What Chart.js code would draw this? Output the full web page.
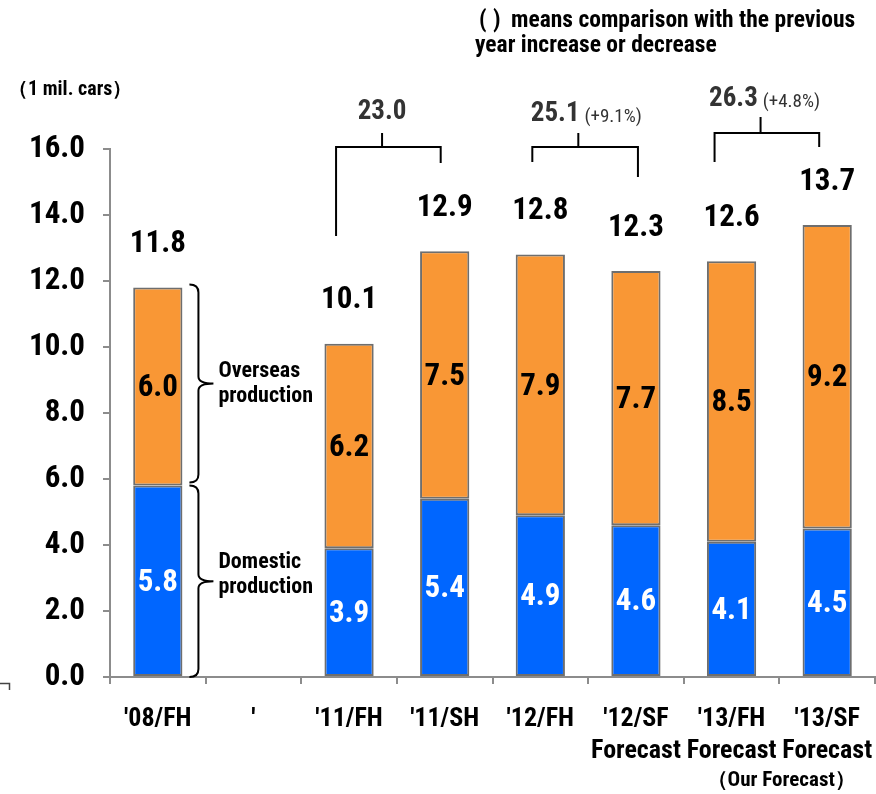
<!DOCTYPE html>
<html>
<head>
<meta charset="utf-8">
<script src="https://cdn.jsdelivr.net/npm/chart.js@4.4.1/dist/chart.umd.min.js"></script>
<style>
  html, body { margin: 0; padding: 0; background: #ffffff; }
  #wrap { width: 876px; height: 794px; position: relative; }
</style>
</head>
<body>
<div id="wrap"><canvas id="chart"></canvas></div>
<script>
// Production volume, million cars (first half / second half)
const categories = [
  ["'08/FH"], ["'"], ["'11/FH"], ["'11/SH"], ["'12/FH"],
  ["'12/SF", "Forecast"], ["'13/FH", "Forecast"], ["'13/SF", "Forecast"]
];
const domestic = [5.8, null, 3.9, 5.4, 4.9, 4.6, 4.1, 4.5];
const overseas = [6.0, null, 6.2, 7.5, 7.9, 7.7, 8.5, 9.2];
const yearPairs = [[2, 3], [4, 5], [6, 7]];   // FH + SH = full year
const yTickValues = [0, 2, 4, 6, 8, 10, 12, 14, 16];

const COND = '"Roboto Condensed", "Open Sans Condensed", "DejaVu Sans Condensed", sans-serif';
const BLUE = '#0066ff';
const ORANGE = '#f99735';
const EDGE = '#6e6e6e';

const totals = domestic.map((d, i) => (d == null ? null : d + overseas[i]));

const annotate = {
  id: 'annotate',
  afterDatasetsDraw(chart) {
    const ctx = chart.ctx;
    const xs = chart.scales.x;
    const ys = chart.scales.y;
    const topMeta = chart.getDatasetMeta(1);
    const lowMeta = chart.getDatasetMeta(0);
    ctx.save();
    ctx.textAlign = 'center';
    ctx.textBaseline = 'middle';

    // values inside each segment
    [lowMeta, topMeta].forEach((meta, di) => {
      const vals = di === 0 ? domestic : overseas;
      meta.data.forEach((el, i) => {
        if (vals[i] == null) return;
        ctx.font = 'bold 31px ' + COND;
        ctx.fillStyle = di === 0 ? '#ffffff' : '#000000';
        ctx.fillText(vals[i].toFixed(1), el.x, (el.y + el.base) / 2 + 2);
      });
    });

    // totals above bars
    topMeta.data.forEach((el, i) => {
      if (totals[i] == null) return;
      ctx.font = 'bold 31px ' + COND;
      ctx.fillStyle = '#000000';
      ctx.fillText(totals[i].toFixed(1), el.x, el.y - 43);
    });

    // annual totals with brackets
    const bracketStyle = [
      { bar: 147, dl: -13, dr: -4, endL: 236, endR: 163, tick: 133, text: 112, shift: 0 },
      { bar: 147, dl: -8,  dr: 2,  endL: 162, endR: 177, tick: 133, text: 114, shift: 8 },
      { bar: 133, dl: -17, dr: -8, endL: 162, endR: 147, tick: 117, text: 99,  shift: 4 }
    ];
    const annual = yearPairs.map(([a, b]) => totals[a] + totals[b]);
    ctx.strokeStyle = '#000000';
    ctx.lineWidth = 2;
    yearPairs.forEach(([a, b], g) => {
      const s = bracketStyle[g];
      const xl = xs.getPixelForValue(a) + s.dl;
      const xr = xs.getPixelForValue(b) + s.dr;
      const xm = xl + 46;
      ctx.beginPath();
      ctx.moveTo(xl, s.endL); ctx.lineTo(xl, s.bar); ctx.lineTo(xr, s.bar); ctx.lineTo(xr, s.endR);
      ctx.moveTo(xm, s.bar); ctx.lineTo(xm, s.tick);
      ctx.stroke();

      const main = annual[g].toFixed(1);
      ctx.font = 'bold 27px ' + COND;
      const wMain = ctx.measureText(main).width;
      let note = '';
      let wNote = 0;
      if (g > 0) {
        const pct = (annual[g] / annual[g - 1] - 1) * 100;
        note = '(' + (pct >= 0 ? '+' : '') + pct.toFixed(1) + '%)';
        ctx.font = '19px ' + COND;
        wNote = ctx.measureText(note).width + 5;
      }
      const left = xm + s.shift - (wMain + wNote) / 2;
      ctx.textAlign = 'left';
      ctx.fillStyle = '#333333';
      ctx.font = 'bold 27px ' + COND;
      ctx.fillText(main, left, s.text);
      if (note) {
        ctx.font = '19px ' + COND;
        ctx.fillText(note, left + wMain + 5, s.text + 3);
      }
      ctx.textAlign = 'center';
    });

    // braces beside the first bar
    const first = topMeta.data[0];
    const bx = first.x + first.width / 2 + 16;
    const yTop = ys.getPixelForValue(totals[0]) - 3;
    const yMid = ys.getPixelForValue(domestic[0]) - 3;
    const yMid2 = ys.getPixelForValue(domestic[0]);
    const yBot = ys.getPixelForValue(0);
    function brace(y0, y1) {
      const m = (y0 + y1) / 2;
      ctx.beginPath();
      ctx.moveTo(bx - 9, y0);
      ctx.quadraticCurveTo(bx, y0, bx, y0 + 8);
      ctx.lineTo(bx, m - 7);
      ctx.quadraticCurveTo(bx, m, bx + 15, m);
      ctx.moveTo(bx + 15, m);
      ctx.quadraticCurveTo(bx, m, bx, m + 7);
      ctx.lineTo(bx, y1 - 8);
      ctx.quadraticCurveTo(bx, y1, bx - 9, y1);
      ctx.stroke();
      return m;
    }
    const m1 = brace(yTop, yMid);
    const m2 = brace(yMid2, yBot);
    ctx.textAlign = 'left';
    ctx.fillStyle = '#000000';
    ctx.font = 'bold 22px ' + COND;
    ctx.fillText('Overseas', bx + 20, m1 - 12);
    ctx.fillText('production', bx + 20, m1 + 13);
    ctx.fillText('Domestic', bx + 20, m2 - 19);
    ctx.fillText('production', bx + 20, m2 + 6);

    // headings
    ctx.font = 'bold 20px ' + COND;
    ctx.fillText('（1 mil. cars）', 8, 90);
    ctx.font = 'bold 23.5px ' + COND;
    ctx.fillText('(', 479, 21);
    ctx.fillText(')', 493, 21);
    ctx.fillText('means comparison with the previous', 511, 21);
    ctx.fillText('year increase or decrease', 475, 46);

    // extra line under the last category
    ctx.font = 'bold 21px ' + COND;
    ctx.textAlign = 'center';
    ctx.fillText('（Our Forecast）', xs.getPixelForValue(7) - 46, 781);

    // small corner mark at the lower left
    ctx.strokeStyle = '#444444';
    ctx.lineWidth = 1.5;
    ctx.beginPath();
    ctx.moveTo(0, 683.5); ctx.lineTo(9.5, 683.5); ctx.lineTo(9.5, 690);
    ctx.stroke();
    ctx.restore();
  }
};

new Chart(document.getElementById('chart'), {
  type: 'bar',
  data: {
    labels: categories,
    datasets: [
      { label: 'Domestic production', data: domestic, backgroundColor: BLUE,
        borderColor: EDGE, borderWidth: 2, borderSkipped: false },
      { label: 'Overseas production', data: overseas, backgroundColor: ORANGE,
        borderColor: EDGE, borderWidth: 2, borderSkipped: false }
    ]
  },
  options: {
    responsive: true,
    maintainAspectRatio: false,
    animation: false,
    events: [],
    datasets: { bar: { categoryPercentage: 1, barPercentage: 0.515 } },
    layout: { padding: { top: 149, right: 1, left: 0, bottom: 0 } },
    plugins: { legend: { display: false }, tooltip: { enabled: false } },
    scales: {
      x: {
        stacked: true,
        grid: { drawOnChartArea: false, drawTicks: true, tickLength: 7, color: '#8c8c8c', lineWidth: 2 },
        border: { color: '#8c8c8c', width: 2 },
        ticks: { color: '#000000', padding: 19, maxRotation: 0, autoSkip: false,
                 font: { family: COND, size: 26, weight: 'bold', lineHeight: 1.24 } },
        afterFit(scale) {
          scale.height = 117;
          scale.paddingLeft = 0;
          scale.paddingRight = 0;
        }
      },
      y: {
        stacked: true,
        min: 0, max: 16,
        afterBuildTicks(scale) { scale.ticks = yTickValues.map(v => ({ value: v })); },
        grid: { drawOnChartArea: false, drawTicks: true, tickLength: 7, color: '#8c8c8c', lineWidth: 2 },
        border: { color: '#8c8c8c', width: 2 },
        ticks: { color: '#000000', padding: 18,
                 callback: v => Number(v).toFixed(1),
                 font: { family: COND, size: 31, weight: 'bold' } },
        afterFit(scale) {
          scale.width = 110;
          scale.paddingTop = 0;
          scale.paddingBottom = 0;
        }
      }
    }
  },
  plugins: [annotate]
});
</script>
</body>
</html>
